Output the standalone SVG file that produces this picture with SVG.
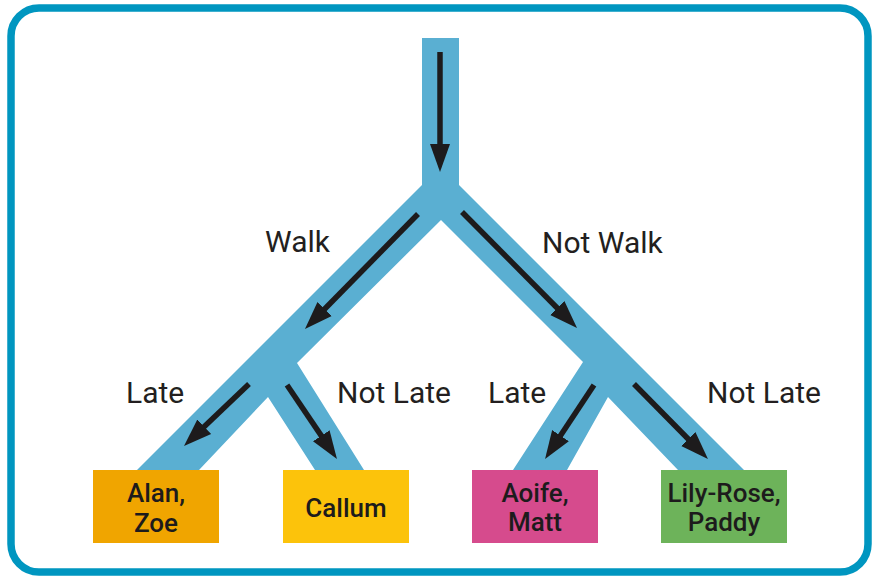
<svg xmlns="http://www.w3.org/2000/svg" width="873" height="578" viewBox="0 0 873 578">
  <style>
    .frame { fill: #ffffff; stroke: #0096c0; stroke-width: 7.5; }
    .band { fill: #5aafd2; }
    .arrow { stroke: #1d1b1c; stroke-width: 5.5; fill: none; marker-end: url(#head); }
    .label { font-family: Roboto, "Liberation Sans", sans-serif; font-size: 30px; fill: #231f20; }
    .name { font-family: Roboto, "Liberation Sans", sans-serif; font-weight: 500; font-size: 26px; fill: #1d1b1c; text-anchor: middle; }
  </style>
  <defs>
    <marker id="head" markerUnits="userSpaceOnUse" markerWidth="30" markerHeight="22" viewBox="0 0 30 22" refX="2" refY="11" orient="auto">
      <path d="M0,1 L28,11 L0,21 Z" fill="#1d1b1c"/>
    </marker>
  </defs>

  <!-- outer frame -->
  <rect class="frame" x="11" y="8" width="857" height="564" rx="28" ry="28"/>

  <!-- tree bands -->
  <g id="connectors">
    <polygon class="band" points="422,38 459,38 459,185 744,470 678,470 608,397 567,470 513,470 583,362 441,220 297,363 364,470 315,470 268,397 199,470 137,470 422,185"/>

    <line class="arrow" x1="440" y1="52" x2="440" y2="146"/>
    <line class="arrow" x1="418" y1="214" x2="323.2" y2="310.5"/>
    <line class="arrow" x1="462" y1="212" x2="558.7" y2="309.5"/>
    <line class="arrow" x1="249" y1="384" x2="202.8" y2="428.1"/>
    <line class="arrow" x1="287" y1="385" x2="322.4" y2="437.4"/>
    <line class="arrow" x1="594" y1="385" x2="559.4" y2="437.3"/>
    <line class="arrow" x1="634" y1="384" x2="689.7" y2="440.5"/>
  </g>

  <!-- branch labels -->
  <g id="labels">
    <text class="label" x="265" y="252">Walk</text>
    <text class="label" x="542" y="253">Not Walk</text>
    <text class="label" x="126" y="403">Late</text>
    <text class="label" x="337" y="403">Not Late</text>
    <text class="label" x="488" y="403">Late</text>
    <text class="label" x="707" y="403">Not Late</text>
  </g>

  <!-- outcome boxes -->
  <g id="alan-zoe">
    <rect x="93" y="470" width="126" height="73" fill="#f0a500"/>
    <text class="name" x="156" y="502">Alan,</text>
    <text class="name" x="156" y="532">Zoe</text>
  </g>
  <g id="callum">
    <rect x="283" y="470" width="126" height="73" fill="#fcc30b"/>
    <text class="name" x="346" y="517">Callum</text>
  </g>
  <g id="aoife-matt">
    <rect x="472" y="470" width="126" height="73" fill="#d64b8d"/>
    <text class="name" x="535" y="502">Aoife,</text>
    <text class="name" x="535" y="531">Matt</text>
  </g>
  <g id="lily-rose-paddy">
    <rect x="661" y="470" width="126" height="73" fill="#6db35a"/>
    <text class="name" x="724" y="502">Lily-Rose,</text>
    <text class="name" x="724" y="531">Paddy</text>
  </g>
</svg>
